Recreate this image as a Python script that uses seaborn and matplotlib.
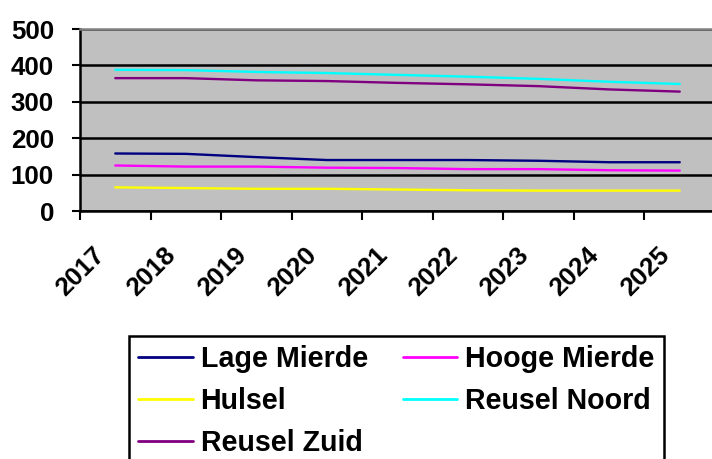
import matplotlib

matplotlib.use("Agg")

import matplotlib.pyplot as plt
import matplotlib.transforms as mtransforms
import pandas as pd
import seaborn as sns

years = [2017, 2018, 2019, 2020, 2021, 2022, 2023, 2024, 2025]
lage_mierde = [158, 157, 148, 140, 140, 140, 138, 134, 134]
hooge_mierde = [125, 122, 122, 119, 118, 115, 115, 112, 111]
hulsel = [65, 63, 61, 61, 59, 57, 56, 56, 56]
reusel_noord = [388, 387, 382, 379, 374, 369, 363, 355, 349]
reusel_zuid = [365, 365, 359, 357, 352, 348, 343, 334, 328]

series_names = ["Lage Mierde", "Hooge Mierde", "Hulsel", "Reusel Noord", "Reusel Zuid"]
series_colors = ["#000080", "#FF00FF", "#FFFF00", "#00FFFF", "#800080"]
y_ticks = [0, 100, 200, 300, 400, 500]

df = pd.concat(
    [
        pd.DataFrame({"year": years, "value": vals, "area": name})
        for name, vals in zip(
            series_names,
            [lage_mierde, hooge_mierde, hulsel, reusel_noord, reusel_zuid],
        )
    ],
    ignore_index=True,
)

sns.set_style("white")
plt.rcParams["font.family"] = ["Liberation Sans", "DejaVu Sans"]
plt.rcParams["text.color"] = "black"
plt.rcParams["xtick.color"] = "black"
plt.rcParams["ytick.color"] = "black"

W, H = 712, 459
fig = plt.figure(figsize=(W / 100, H / 100), dpi=100)
ax = fig.add_axes([80 / W, 1 - 211 / H, (715 - 80) / W, (211 - 29) / H])
ax.set_facecolor("#C0C0C0")

sns.lineplot(
    data=df,
    x="year",
    y="value",
    hue="area",
    palette=dict(zip(series_names, series_colors)),
    hue_order=series_names,
    linewidth=1.7,
    ax=ax,
    zorder=3,
)

ax.set_xlim(years[0] - 0.5, years[-1] + 0.5)
ax.set_ylim(0, 500)
ax.set_yticks(y_ticks)
ax.set_yticklabels([str(v) for v in y_ticks], fontsize=18.6, fontweight="bold",
                   color="black")
ax.grid(axis="y", color="black", linewidth=1.8, zorder=1)
ax.set_axisbelow(True)

# category boundaries get the tick marks, centers get the labels
ax.set_xticks([y - 0.5 for y in years] + [years[-1] + 0.5])
ax.set_xticklabels([])
ax.set_xticks(years, minor=True)
ax.set_xticklabels([str(y) for y in years], minor=True, fontsize=18.6,
                   fontweight="bold", rotation=45, ha="right", va="center",
                   rotation_mode="anchor", color="black")
ax.tick_params(axis="x", which="major", length=6.5, width=1.5, color="black",
               direction="out", bottom=True)
ax.tick_params(axis="x", which="minor", length=0, pad=29)
ax.tick_params(axis="y", length=5.8, width=1.5, color="black", direction="out",
               pad=13, left=True)
offset = mtransforms.ScaledTranslation(-0.14, 0, fig.dpi_scale_trans)
for lbl in ax.get_xticklabels(minor=True):
    lbl.set_transform(lbl.get_transform() + offset)

ax.set_xlabel("")
ax.set_ylabel("")
for side in ["left", "bottom"]:
    ax.spines[side].set_color("black")
    ax.spines[side].set_linewidth(1.8)
ax.spines["top"].set_color("#808080")
ax.spines["top"].set_linewidth(1.8)
ax.spines["right"].set_visible(False)

handles, labels = ax.get_legend_handles_labels()
ax.get_legend().remove()
for h in handles:
    h.set_linewidth(2)
# legend fills column by column, reorder so it reads row by row
order = [0, 2, 4, 1, 3]
leg = fig.legend(
    [handles[i] for i in order],
    [labels[i] for i in order],
    loc="upper left",
    bbox_to_anchor=(129 / W, 1 - 336 / H),
    ncol=2,
    frameon=True,
    fancybox=False,
    edgecolor="black",
    prop={"size": 20.6, "weight": "bold"},
    labelcolor="black",
    handlelength=1.9,
    handletextpad=0.28,
    columnspacing=1.22,
    labelspacing=0.48,
    borderpad=0.32,
    borderaxespad=0,
)
leg.get_frame().set_linewidth(1.8)
leg.get_frame().set_alpha(1)

fig.savefig("out.png", dpi=100)
